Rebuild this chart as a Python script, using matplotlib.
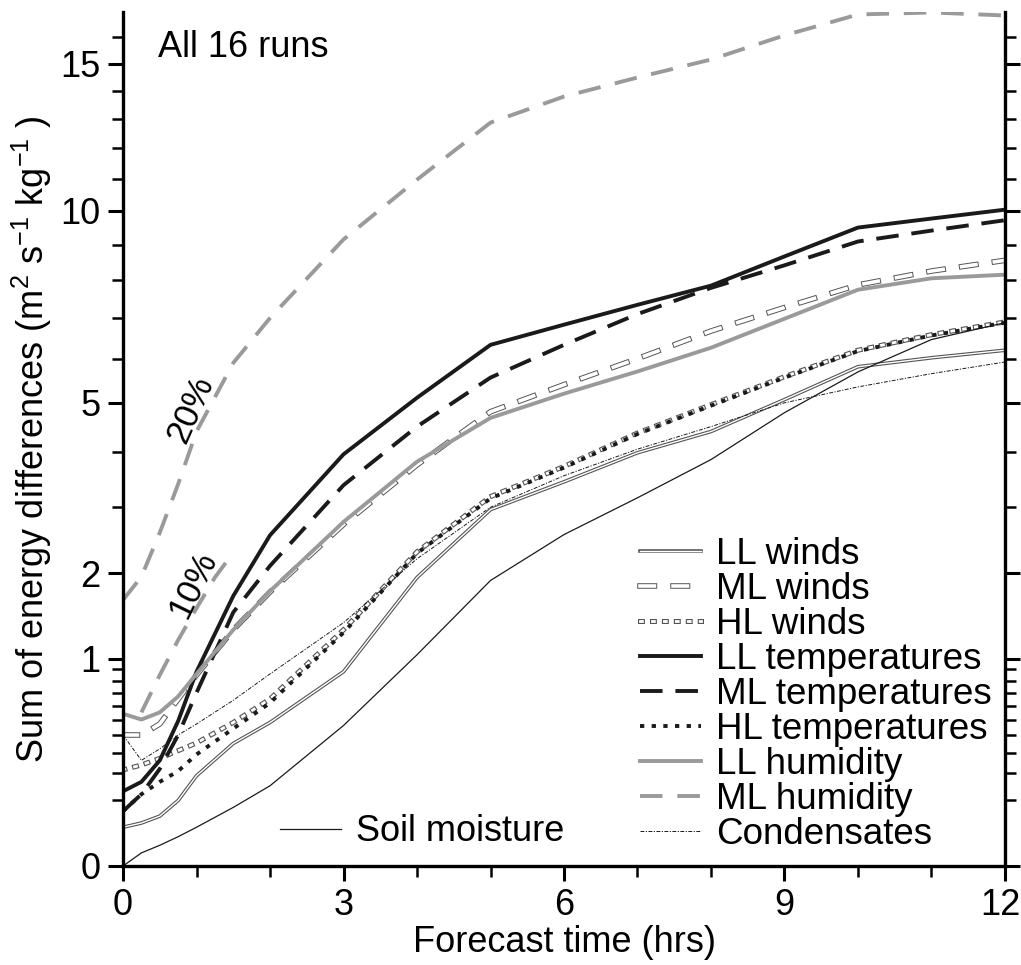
import numpy as np
import matplotlib
matplotlib.use("Agg")
import matplotlib.pyplot as plt
import matplotlib.patheffects as pe
from matplotlib.ticker import FixedLocator
from matplotlib.transforms import ScaledTranslation

plt.rcParams["font.family"] = ["Liberation Sans", "DejaVu Sans"]
plt.rcParams["font.size"] = 26
plt.rcParams["mathtext.default"] = "regular"

# forecast times (hrs)
t = [0, 0.25, 0.5, 0.75, 1, 1.5, 2, 3, 4, 5, 6, 7, 8, 9, 10, 11, 12]

ll_winds = [0.035, 0.043, 0.058, 0.10, 0.19, 0.35, 0.48, 0.88, 1.94, 2.96, 3.44, 3.98, 4.40, 5.07, 5.81, 6.02, 6.20]
ml_winds = [0.40, 0.40, 0.47, 0.65, 0.85, 1.30, 1.75, 2.72, 3.75, 4.81, 5.40, 6.00, 6.67, 7.27, 7.87, 8.25, 8.55]
hl_winds = [0.215, 0.238, 0.27, 0.31, 0.353, 0.48, 0.65, 1.30, 2.30, 3.18, 3.72, 4.37, 4.96, 5.58, 6.20, 6.58, 6.90]
ll_temps = [0.13, 0.165, 0.26, 0.49, 0.88, 1.70, 2.55, 3.95, 5.11, 6.33, 6.83, 7.34, 7.85, 8.66, 9.50, 9.77, 10.04]
ml_temps = [0.07, 0.12, 0.22, 0.40, 0.70, 1.50, 2.10, 3.38, 4.50, 5.56, 6.33, 7.10, 7.79, 8.41, 9.09, 9.41, 9.72]
hl_temps = [0.07, 0.12, 0.165, 0.21, 0.29, 0.44, 0.62, 1.27, 2.28, 3.15, 3.70, 4.35, 4.94, 5.56, 6.18, 6.56, 6.88]
ll_humid = [0.54, 0.50, 0.55, 0.67, 0.86, 1.30, 1.76, 2.76, 3.81, 4.68, 5.20, 5.70, 6.26, 6.98, 7.74, 8.05, 8.15]
ml_humid = [1.65, 1.95, 2.59, 3.40, 4.40, 5.90, 7.00, 9.15, 10.98, 12.88, 13.80, 14.49, 15.16, 16.08, 16.90, 16.98, 16.86]
condens = [0.40, 0.26, 0.32, 0.40, 0.47, 0.64, 0.86, 1.38, 2.20, 3.00, 3.55, 4.05, 4.50, 5.00, 5.35, 5.65, 5.92]
soil = [0.0, 0.004, 0.01, 0.02, 0.035, 0.08, 0.15, 0.46, 1.04, 1.90, 2.56, 3.16, 3.85, 4.79, 5.69, 6.46, 6.88]

# short 10% reference curve
t_ref10 = [0.25, 0.5, 0.75, 1, 1.25, 1.5]
ref10 = [0.55, 0.85, 1.19, 1.55, 1.94, 2.29]

gray = "#9a9a9a"
dark = "#1a1a1a"


def outlined(width, color="#555555"):
    return [pe.Stroke(linewidth=width, foreground=color, capstyle="projecting"), pe.Normal()]


fig = plt.figure(figsize=(10.21, 9.65), dpi=100)
ax = fig.add_axes([0.1205, 0.1026, 0.8638, 0.885])
ax.set_yscale("function", functions=(lambda y: np.sqrt(np.clip(y, 0, None)), lambda y: np.asarray(y) ** 2))

h_llw, = ax.plot(t, ll_winds, color="white", lw=1.0, path_effects=outlined(2.6), label="LL winds")
h_mlw, = ax.plot(t, ml_winds, color="white", lw=2.6, dashes=(4.0, 5.15), dash_capstyle="projecting",
                 path_effects=outlined(4.0), label="ML winds")
h_hlw, = ax.plot(t, hl_winds, color="white", lw=2.0, dashes=(0.7, 3.6), dash_capstyle="projecting",
                 path_effects=outlined(3.6), label="HL winds")
h_llt, = ax.plot(t, ll_temps, color=dark, lw=2.8, label="LL temperatures")
h_mlt, = ax.plot(t, ml_temps, color=dark, lw=2.8, dashes=(5.8, 3.3), label="ML temperatures")
h_hlt, = ax.plot(t, hl_temps, color=dark, lw=2.8, dashes=(1.1, 1.9), label="HL temperatures")
h_llh, = ax.plot(t, ll_humid, color=gray, lw=2.8, label="LL humidity")
h_mlh, = ax.plot(t, ml_humid, color=gray, lw=2.8, dashes=(5.8, 3.8), label="ML humidity")
h_con, = ax.plot(t, condens, color=dark, lw=0.7, dashes=(4, 1.5, 1.2, 1.5), label="Condensates")
h_soil, = ax.plot(t, soil, color=dark, lw=0.9, label="Soil moisture")
ax.plot(t_ref10, ref10, color=gray, lw=2.8, dashes=(5.8, 3.8))

ax.text(0.92, 4.85, "20%", rotation=66, ha="center", va="center", fontsize=25)
ax.text(0.95, 1.85, "10%", rotation=64, ha="center", va="center", fontsize=25)
ax.text(0.48, 15.6, "All 16 runs", ha="left", va="center", fontsize=26)

ax.set_xlim(0, 12)
ax.set_ylim(0, 17)
ax.xaxis.set_major_locator(FixedLocator([0, 3, 6, 9, 12]))
ax.xaxis.set_minor_locator(FixedLocator(range(0, 13)))
ax.yaxis.set_major_locator(FixedLocator([0, 1, 2, 5, 10, 15]))
ax.yaxis.set_minor_locator(FixedLocator([0.1 * i for i in range(1, 10)] + [3, 4, 6, 7, 8, 9, 11, 12, 13, 14, 16]))
ax.set_yticklabels(["0", "1", "2", "5", "10", "15"])

ax.tick_params(which="major", direction="out", length=11, width=2.2, right=True, labelsize=26, pad=5)
ax.tick_params(which="minor", direction="out", length=8, width=1.8, right=True)
for side in ["left", "right", "bottom"]:
    ax.spines[side].set_linewidth(2.4)
ax.spines["top"].set_visible(False)

# keep the "12" label inside the picture
last = ax.get_xticklabels()[-1]
last.set_transform(last.get_transform() + ScaledTranslation(-3 / 72, 0, fig.dpi_scale_trans))

ax.set_xlabel("Forecast time (hrs)", fontsize=26, labelpad=1)
ax.set_ylabel("Sum of energy differences (m$^2$ s$^{-1}$ kg$^{-1}$ )", fontsize=26, labelpad=5)

leg = ax.legend(handles=[h_llw, h_mlw, h_hlw, h_llt, h_mlt, h_hlt, h_llh, h_mlh, h_con],
                loc="lower left", bbox_to_anchor=(0.586, 0.0168), frameon=False, fontsize=26.5,
                handlelength=1.65, handletextpad=0.42, labelspacing=0.0, borderpad=0, borderaxespad=0)
ax.add_artist(leg)
ax.legend(handles=[h_soil], loc="center left", bbox_to_anchor=(0.178, 0.040), frameon=False, fontsize=26,
          handlelength=1.7, handletextpad=0.4, borderpad=0, borderaxespad=0)

fig.savefig("out.png", dpi=100)
